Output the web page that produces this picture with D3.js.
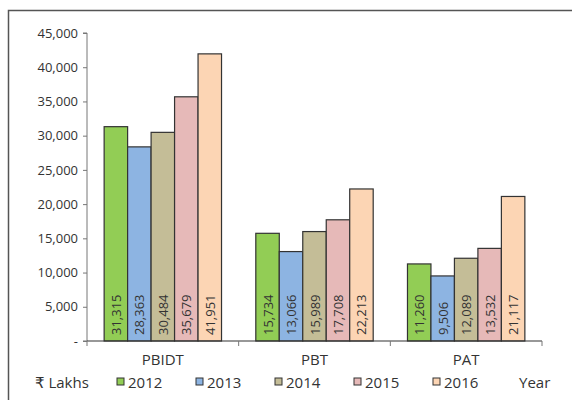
<!DOCTYPE html>
<html>
<head>
<meta charset="utf-8">
<script src="https://d3js.org/d3.v7.min.js"></script>
<style>
  body { margin: 0; background: #fff; }
  text { font-family: "Open Sans", "DejaVu Sans", sans-serif; fill: #333; }
</style>
</head>
<body>
<svg width="572" height="400"></svg>
<script>
  var categories = ['PBIDT', 'PBT', 'PAT'];
  var years = ['2012', '2013', '2014', '2015', '2016'];
  var values = {
    '2012': [31315, 15734, 11260],
    '2013': [28363, 13066, 9506],
    '2014': [30484, 15989, 12089],
    '2015': [35679, 17708, 13532],
    '2016': [41951, 22213, 21117]
  };
  var colors = ['#92cd55', '#8db4e2', '#c4bd97', '#e6b9b8', '#fcd5b4'];
  var yTicks = [0, 5000, 10000, 15000, 20000, 25000, 30000, 35000, 40000, 45000];

  var svg = d3.select('svg');

  // frame around the chart
  svg.append('path')
    .attr('d', 'M8.5,400 L8.5,10.5 L572,10.5')
    .attr('fill', 'none')
    .attr('stroke', '#555')
    .attr('stroke-width', 1.5);

  var plotLeft = 87, plotRight = 542, plotTop = 33, plotBottom = 341;

  var y = d3.scaleLinear().domain([0, 45000]).range([plotBottom, plotTop]);
  var x0 = d3.scaleBand().domain(categories).range([plotLeft, plotRight]).paddingInner(0).paddingOuter(0);
  var x1 = d3.scaleBand().domain(years).range([0, x0.bandwidth()]).paddingInner(0).paddingOuter(0.73);

  var fmt = d3.format(',');

  // y axis
  var yAxis = svg.append('g')
    .attr('transform', 'translate(' + plotLeft + ',0)')
    .call(d3.axisLeft(y).tickValues(yTicks).tickSize(4).tickPadding(5)
      .tickFormat(function(d) { return d === 0 ? '-' : fmt(d); }));
  yAxis.selectAll('text').style('font-size', '13px').attr('fill', '#333');
  yAxis.selectAll('line, path').attr('stroke', '#777');
  yAxis.select('.domain').attr('d', 'M-4,' + plotTop + 'H0V' + plotBottom + 'H-4');

  // bars
  var groups = svg.append('g').selectAll('g')
    .data(categories)
    .join('g')
    .attr('transform', function(d) { return 'translate(' + x0(d) + ',0)'; });

  years.forEach(function(yr, i) {
    groups.append('rect')
      .attr('x', function() { return x1(yr); })
      .attr('y', function(d, j) { return y(values[yr][j]); })
      .attr('width', x1.bandwidth())
      .attr('height', function(d, j) { return plotBottom - y(values[yr][j]); })
      .attr('fill', colors[i])
      .attr('stroke', '#333')
      .attr('stroke-width', 1.2);

    groups.append('text')
      .attr('transform', function() {
        return 'translate(' + (x1(yr) + x1.bandwidth() / 2 + 5) + ',' + (plotBottom - 6) + ') rotate(-90)';
      })
      .style('font-size', '13px')
      .attr('fill', '#333')
      .text(function(d, j) { return fmt(values[yr][j]); });
  });

  // x axis
  var xAxis = svg.append('g')
    .attr('transform', 'translate(0,' + plotBottom + ')');
  xAxis.append('line')
    .attr('x1', plotLeft).attr('x2', plotRight)
    .attr('stroke', '#333').attr('stroke-width', 1.2);
  xAxis.selectAll('.tk')
    .data([plotLeft, x0('PBT'), x0('PAT'), plotRight])
    .join('line')
    .attr('x1', function(d) { return d; }).attr('x2', function(d) { return d; })
    .attr('y1', 0).attr('y2', 5)
    .attr('stroke', '#777');
  xAxis.selectAll('.lbl')
    .data(categories)
    .join('text')
    .attr('x', function(d) { return x0(d) + x0.bandwidth() / 2; })
    .attr('y', 24)
    .attr('text-anchor', 'middle')
    .style('font-size', '15px')
    .attr('fill', '#333')
    .text(function(d) { return d; });

  // legend
  var legY = 382;
  svg.append('text')
    .attr('x', 35).attr('y', legY + 6)
    .style('font-size', '15px')
    .text('₹ Lakhs');
  var legX = [117, 196, 275, 354, 433];
  years.forEach(function(yr, i) {
    svg.append('rect')
      .attr('x', legX[i]).attr('y', legY - 4)
      .attr('width', 7).attr('height', 7)
      .attr('fill', colors[i])
      .attr('stroke', '#333');
    svg.append('text')
      .attr('x', legX[i] + 11).attr('y', legY + 6)
      .style('font-size', '15px')
      .text(yr);
  });
  svg.append('text')
    .attr('x', 519).attr('y', legY + 6)
    .style('font-size', '15px')
    .text('Year');
</script>
</body>
</html>
